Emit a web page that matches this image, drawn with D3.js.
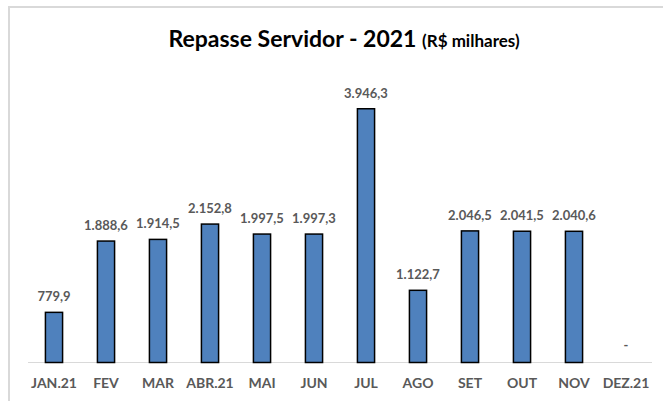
<!DOCTYPE html>
<html><head><meta charset="utf-8">
<script src="https://cdn.jsdelivr.net/npm/d3@7"></script>
<style>body{margin:0;background:#fff}svg{display:block}</style>
</head><body>
<script>
const categories = ["JAN.21","FEV","MAR","ABR.21","MAI","JUN","JUL","AGO","SET","OUT","NOV","DEZ.21"];
const values = [779.9,1888.6,1914.5,2152.8,1997.5,1997.3,3946.3,1122.7,2046.5,2041.5,2040.6,0];
const titleMain = "Repasse Servidor - 2021";
const titleUnit = "(R$ milhares)";

const W = 663, H = 401;
const svg = d3.select("body").append("svg").attr("width", W).attr("height", H);
const font = "Lato, 'Open Sans', sans-serif";

svg.append("rect").attr("x", 9).attr("y", 7).attr("width", 700).attr("height", 450)
  .attr("fill", "#fff").attr("stroke", "#d9d9d9").attr("stroke-width", 2);

const x = d3.scaleBand().domain(categories).range([28, 652]).paddingInner(0.67).paddingOuter(0.335);
const y = d3.scaleLinear().domain([0, 4500]).range([362.5, 362.5 - 4500 * 0.0643]);

const loc = d3.formatLocale({decimal: ",", thousands: ".", grouping: [3], currency: ["R$", ""]});
const fmt = loc.format(",.1f");

const title = svg.append("text").attr("x", 344).attr("y", 47).attr("text-anchor", "middle")
  .attr("font-family", font).attr("font-weight", "bold").attr("fill", "#000");
title.append("tspan").attr("font-size", 23).text(titleMain + " ");
title.append("tspan").attr("font-size", 17).text(titleUnit);

svg.append("line").attr("x1", 28).attr("x2", 652).attr("y1", y(0)).attr("y2", y(0))
  .attr("stroke", "#d9d9d9").attr("stroke-width", 1);

const data = categories.map((c, i) => ({c, v: values[i]}));

svg.selectAll(".bar").data(data.filter(d => d.v > 0)).enter().append("rect")
  .attr("x", d => x(d.c)).attr("width", x.bandwidth())
  .attr("y", d => y(d.v)).attr("height", d => y(0) - y(d.v))
  .attr("fill", "#4f81bd").attr("stroke", "#000").attr("stroke-width", 1.5);

svg.selectAll(".val").data(data).enter().append("text")
  .attr("x", d => x(d.c) + x.bandwidth() / 2)
  .attr("y", d => d.v > 0 ? y(d.v) - 11 : y(0) - 13)
  .attr("text-anchor", "middle").attr("font-family", font).attr("font-weight", "bold")
  .attr("font-size", 13).attr("fill", "#595959")
  .text(d => d.v > 0 ? fmt(d.v) : "-");

svg.selectAll(".cat").data(categories).enter().append("text")
  .attr("x", d => x(d) + x.bandwidth() / 2).attr("y", 388)
  .attr("text-anchor", "middle").attr("font-family", font).attr("font-weight", "bold")
  .attr("font-size", 14).attr("fill", "#595959").text(d => d);
</script>
</body></html>
